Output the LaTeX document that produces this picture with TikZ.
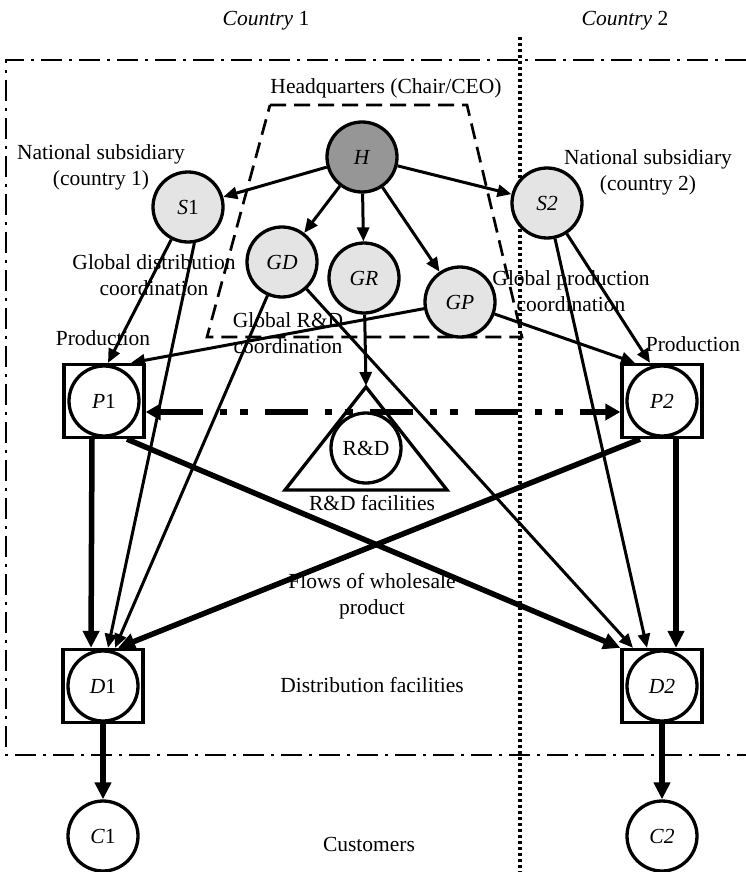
\documentclass[tikz,border=0pt]{standalone}
\usepackage{fontspec}
\setmainfont{Liberation Serif}
\usetikzlibrary{arrows.meta,calc}
\definecolor{lightnode}{HTML}{E4E4E4}
\definecolor{darknode}{HTML}{969696}
\begin{document}
\begin{tikzpicture}[x=1pt,y=-1pt,
  font=\fontsize{21.5pt}{26pt}\selectfont,
  circ/.style={circle, draw, line width=3.3pt, minimum size=70pt, inner sep=0pt, fill=white},
  lightc/.style={circ, fill=lightnode},
  darkc/.style={circ, fill=darknode},
  boxn/.style={rectangle, draw, line width=3.3pt, minimum width=80pt, minimum height=73pt, inner sep=0pt},
  lbl/.style={align=center, inner sep=0pt},
  thinarr/.style={line width=3pt, -{Triangle[length=14pt,width=12pt]}},
  thickarr/.style={line width=5.5pt, -{Triangle[length=17pt,width=16pt]}},
  pline/.style={line width=5.5pt, dash pattern=on 43pt off 17pt on 7pt off 13pt on 8pt off 17pt,
     {Triangle[length=15pt,width=16pt]}-{Triangle[length=15pt,width=16pt]}},
  frameline/.style={line width=2.4pt, dash pattern=on 21pt off 7pt on 3pt off 7pt},
  hqline/.style={line width=2.7pt, dash pattern=on 16pt off 8pt},
  borderline/.style={line width=3.2pt, dash pattern=on 3pt off 3pt}
]
\useasboundingbox (0,0) rectangle (746,872);

% country labels
\node[lbl] (c1lbl) at (266,21) {\textit{Country} 1};
\node[lbl] (c2lbl) at (625,21) {\textit{Country} 2};

% frames
\draw[borderline] (520,37) -- (520,872);
\draw[frameline] (746,60) -- (6,60) -- (6,755) -- (746,755);
\draw[hqline] (270,105) -- (467,105) -- (522,337) -- (207,337) -- cycle;

% labels
\node[lbl] (hqlbl) at (386,88) {Headquarters (Chair/CEO)};
\node[lbl] (ns1) at (101,167) {National subsidiary\\(country 1)};
\node[lbl] (ns2) at (648,172) {National subsidiary\\(country 2)};
\node[lbl] (gdc) at (154,275) {Global distribution\\coordination};
\node[lbl] (grc) at (288,333) {Global R\&D\\coordination};
\node[lbl] (gpc) at (571,291) {Global production\\coordination};
\node[lbl] (prod1) at (103,338) {Production};
\node[lbl] (prod2) at (693,344) {Production};
\node[lbl] (rdf) at (372,503) {R\&D facilities};
\node[lbl] (flows) at (372,596) {Flows of wholesale\\product};
\node[lbl] (distf) at (372,685) {Distribution facilities};
\node[lbl] (cust) at (369,844) {Customers};

% R&D triangle
\draw[line width=3.3pt, line join=miter] (366,387) -- (447,490) -- (285,490) -- cycle;
\coordinate (rdapex) at (366,386);

% nodes
\node[darkc] (H) at (362,157) {\textit{H}};
\node[lightc] (S1) at (188,207) {\textit{S}1};
\node[lightc] (S2) at (547,203) {\textit{S2}};
\node[lightc] (GD) at (282,262) {\textit{GD}};
\node[lightc] (GR) at (364,278) {\textit{GR}};
\node[lightc] (GP) at (460,302) {\textit{GP}};

\node[boxn] (P1box) at (104,401) {};
\node[circ] (P1) at (104,401) {\textit{P}1};
\node[boxn] (P2box) at (662,401) {};
\node[circ] (P2) at (662,401) {\textit{P2}};
\node[circ] (RD) at (366,448) {R\&D};
\node[boxn] (D1box) at (103,686) {};
\node[circ] (D1) at (103,686) {\textit{D}1};
\node[boxn] (D2box) at (662,686) {};
\node[circ] (D2) at (662,686) {\textit{D2}};
\node[circ] (C1) at (103,836) {\textit{C}1};
\node[circ] (C2) at (662,836) {\textit{C2}};

% coordination arrows
\draw[thinarr] (H) -- (S1);
\draw[thinarr] (H) -- (S2);
\draw[thinarr] (H) -- (GD);
\draw[thinarr] (H) -- (GR);
\draw[thinarr] (H) -- (GP);
\draw[thinarr] (S1) -- ([xshift=4pt]P1box.north);
\draw[thinarr] (S1.-80) -- ([xshift=5pt]D1box.north);
\draw[thinarr] (GD) -- ([xshift=12pt]D1box.north);
\draw[thinarr] (GD) -- ([xshift=-29pt]D2box.north);
\draw[thinarr] (GR) -- (rdapex);
\draw[thinarr] (GP) -- ([xshift=27pt]P1box.north);
\draw[thinarr] (GP) -- ([xshift=-27pt]P2box.north);
\draw[thinarr] (S2) -- ([xshift=-12pt]P2box.north);
\draw[thinarr] (S2) -- ([xshift=-15pt]D2box.north);

% product flows
\draw[thickarr] ([xshift=-12pt]P1box.south) -- ([xshift=-12pt]D1box.north);
\draw[thickarr] ([xshift=23pt]P1box.south) -- (D2box.north west);
\draw[thickarr] ([xshift=-22pt]P2box.south) -- ([xshift=15pt]D1box.north);
\draw[thickarr] ([xshift=14pt]P2box.south) -- ([xshift=14pt]D2box.north);
\draw[thickarr] (D1box.south) -- (C1);
\draw[thickarr] (D2box.south) -- (C2);
\draw[pline] ([yshift=-11pt]P1box.east) -- ([yshift=-11pt]P2box.west);
\end{tikzpicture}
\end{document}
